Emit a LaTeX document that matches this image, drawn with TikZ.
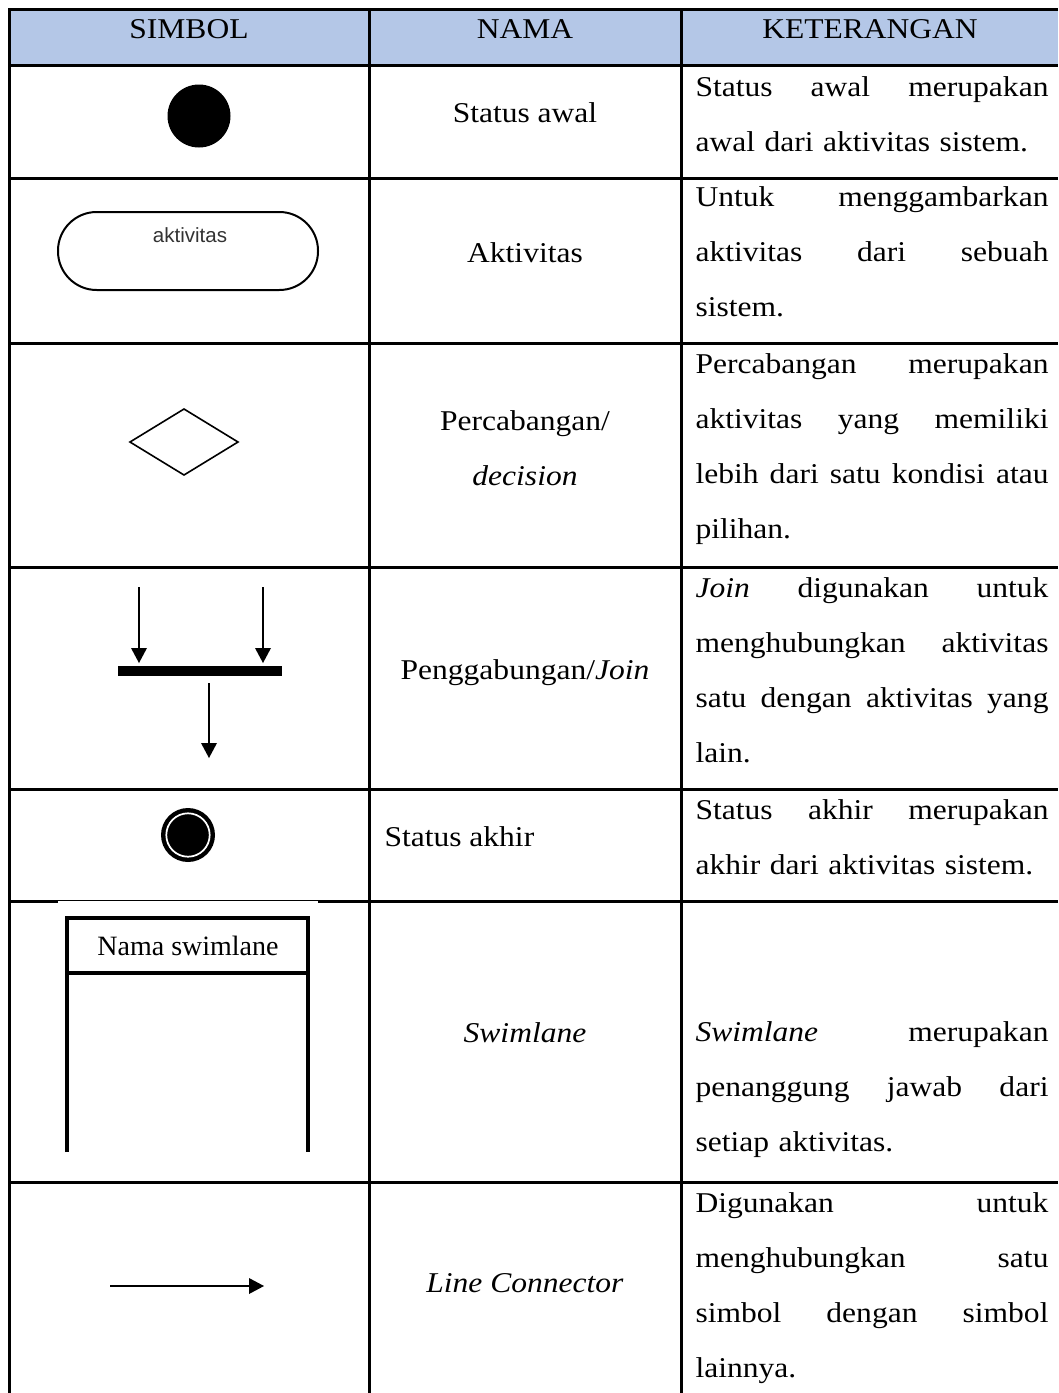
\documentclass[tikz,border=0pt]{standalone}
\usepackage{fontspec}
\setmainfont{Liberation Serif}[FakeStretch=1.1]
\newfontfamily\lanefont{Liberation Serif}
\newfontfamily\actfont{Liberation Sans}
\usepackage{tikz}
\usepackage{xcolor}
\definecolor{headblue}{RGB}{180,199,231}
\tikzset{every picture/.style={line width=0.75pt}}
\tikzset{
  cell/.style={font=\fontsize{21.5}{41.25}\selectfont, inner sep=0pt},
  desc/.style={cell, anchor=base west, text width=264.75pt, align=left},
  grid/.style={line width=2.25pt},
  sym/.style={line width=1.5pt},
}
\newcommand{\fillline}[1]{\leavevmode\hbox to 264.75pt{\spaceskip=\fontdimen2\font plus 1fil\relax #1}}

\begin{document}
\begin{tikzpicture}[x=0.75pt,y=0.75pt,yscale=-1,xscale=1]
\useasboundingbox (0,0) rectangle (1058,1393);

%Shape: Rectangle [header fill]
\fill [headblue] (9,9) rectangle (1058,65);

%Straight Lines [table grid]
\draw [grid] (1058,9) -- (9,9) -- (9,1393) ;
\draw [grid] (9,65) -- (1058,65) ;
\draw [grid] (9,178) -- (1058,178) ;
\draw [grid] (9,343) -- (1058,343) ;
\draw [grid] (9,567) -- (1058,567) ;
\draw [grid] (9,789) -- (1058,789) ;
\draw [grid] (9,901) -- (1058,901) ;
\draw [grid] (9,1182) -- (1058,1182) ;
\draw [grid] (369,9) -- (369,1393) ;
\draw [grid] (681,9) -- (681,1393) ;
%white edge of the pasted swimlane picture
\fill [white] (58,901.2) rectangle (318,903) ;

% Text Node
\draw (189,38) node [cell,anchor=base] (hSimbol) {SIMBOL};
% Text Node
\draw (525,38) node [cell,anchor=base] (hNama) {NAMA};
% Text Node
\draw (870,38) node [cell,anchor=base] (hKet) {KETERANGAN};

%Shape: Circle [status awal]
\fill (199,116) circle (31.5) ;
% Text Node
\draw (525,122) node [cell,anchor=base] (nAwal) {Status awal};
% Text Node
\draw (695,96) node [desc] (kAwal) {\fillline{Status awal merupakan}\\awal dari aktivitas sistem.};

%Shape: Rounded Rectangle [aktivitas]
\draw [sym, rounded corners=29pt] (58,212) rectangle (318,290) ;
% Text Node
\draw (190,242) node [font=\actfont\fontsize{15.4}{18}\selectfont, text=black!80, anchor=base, inner sep=0pt] (actLabel) {aktivitas};
% Text Node
\draw (525,262) node [cell,anchor=base] (nAktivitas) {Aktivitas};
% Text Node
\draw (695,206) node [desc] (kAktivitas) {\fillline{Untuk menggambarkan}\\\fillline{aktivitas dari sebuah}\\sistem.};

%Shape: Diamond [decision]
\draw [line width=1.2pt] (130,442) -- (184,409) -- (238,442) -- (184,475) -- cycle ;
% Text Node
\draw (525,485) node [cell,anchor=base,align=center] (nCabang) {Percabangan/\\\textit{decision}};
% Text Node
\draw (695,373) node [desc] (kCabang) {\fillline{Percabangan merupakan}\\\fillline{aktivitas yang memiliki}\\\fillline{lebih dari satu kondisi atau}\\pilihan.};

%Straight Lines [join in, left]
\draw [sym] (139,587) -- (139,650) ;
\fill [shift={(139,663)}, rotate=270] (15,-8) -- (0,0) -- (15,8) -- cycle ;
%Straight Lines [join in, right]
\draw [sym] (263,587) -- (263,650) ;
\fill [shift={(263,663)}, rotate=270] (15,-8) -- (0,0) -- (15,8) -- cycle ;
%Shape: Rectangle [join bar]
\fill (118,666) rectangle (282,676) ;
%Straight Lines [join out]
\draw [sym] (209,683) -- (209,745) ;
\fill [shift={(209,758)}, rotate=270] (15,-8) -- (0,0) -- (15,8) -- cycle ;
% Text Node
\draw (525,679) node [cell,anchor=base] (nJoin) {Penggabungan/\textit{Join}};
% Text Node
\draw (695,597) node [desc] (kJoin) {\fillline{\textit{Join} digunakan untuk}\\\fillline{menghubungkan aktivitas}\\\fillline{satu dengan aktivitas yang}\\lain.};

%Shape: Circle [status akhir]
\fill (188,835) circle (27) ;
\draw [white, line width=1.3pt] (188,835) circle (21.7) ;
% Text Node
\draw (384,846) node [cell,anchor=base west] (nAkhir) {Status akhir};
% Text Node
\draw (695,819) node [desc] (kAkhir) {\fillline{Status akhir merupakan}\\akhir dari aktivitas sistem.};

%Shape: Swimlane
\draw [line width=3pt] (67,1152) -- (67,918) -- (308,918) -- (308,1152) ;
\draw [line width=3pt] (67,973) -- (308,973) ;
% Text Node
\draw (188,955) node [font=\lanefont\fontsize{21}{25}\selectfont, anchor=base, inner sep=0pt] (laneLabel) {Nama swimlane};
% Text Node
\draw (525,1042) node [cell,anchor=base] (nLane) {\textit{Swimlane}};
% Text Node
\draw (695,1041) node [desc] (kLane) {\fillline{\textit{Swimlane} merupakan}\\\fillline{penanggung jawab dari}\\setiap aktivitas.};

%Straight Lines [line connector]
\draw [sym] (110,1286) -- (250,1286) ;
\fill [shift={(264,1286)}, rotate=180] (15,-8) -- (0,0) -- (15,8) -- cycle ;
% Text Node
\draw (525,1292) node [cell,anchor=base] (nLine) {\textit{Line Connector}};
% Text Node
\draw (695,1212) node [desc] (kLine) {\fillline{Digunakan untuk}\\\fillline{menghubungkan satu}\\\fillline{simbol dengan simbol}\\lainnya.};

\end{tikzpicture}
\end{document}
